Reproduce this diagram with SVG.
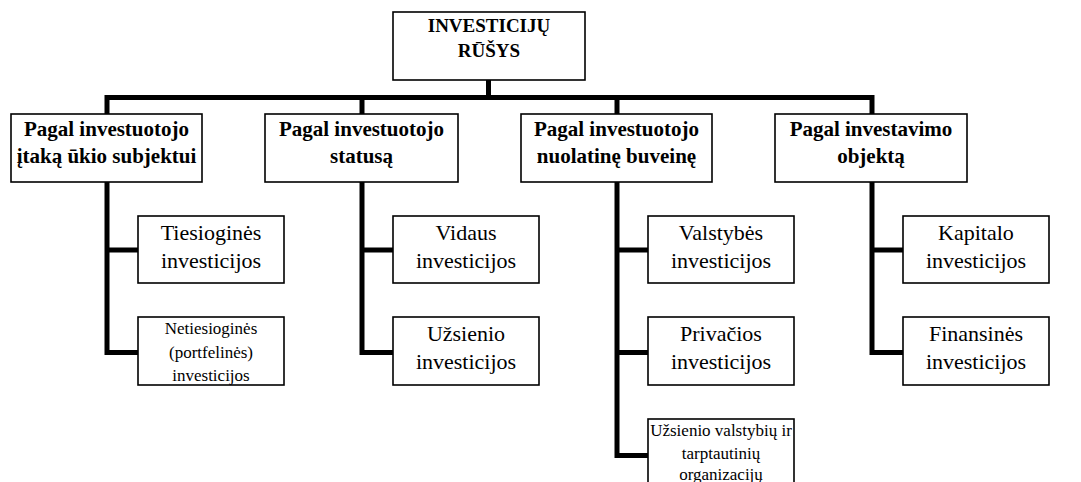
<svg xmlns="http://www.w3.org/2000/svg" width="1081" height="482" viewBox="0 0 1081 482">
<style>
.box{fill:#fff;stroke:#000;stroke-width:1.6}
.ln{fill:none;stroke:#000;stroke-width:5;stroke-linecap:butt;stroke-linejoin:miter}
.t{font-family:Tinos,'Liberation Serif','DejaVu Serif',serif;text-anchor:middle;fill:#000}
.b{font-weight:bold;font-size:21px}
.top{font-weight:bold;font-size:19px}
.c{font-size:22px}
.s{font-size:17px}
</style>
<rect width="1081" height="482" fill="#fff"/>
<g id="connectors">
<path class="ln" d="M488.5 80V97.5M107 97.5H872M107 95V114M362 97.5V114M617 97.5V114M872 95V114"/>
<path class="ln" d="M107 182V352.5H138M107 250H138"/>
<path class="ln" d="M362 182V352.5H393M362 250H393"/>
<path class="ln" d="M617 182V455.5H648M617 250H648M617 352.5H648"/>
<path class="ln" d="M872 182V352.5H903M872 250H903"/>
</g>
<g id="root">
<rect class="box" x="393" y="12" width="192" height="68"/>
<text class="t top" x="489" y="32">INVESTICIJŲ</text>
<text class="t top" x="489" y="57">RŪŠYS</text>
</g>
<g id="p1">
<rect class="box" x="11" y="114" width="191" height="68"/>
<text class="t b" x="106.5" y="136">Pagal investuotojo</text>
<text class="t b" x="106.5" y="163">įtaką ūkio subjektui</text>
</g>
<g id="p2">
<rect class="box" x="265" y="114" width="193" height="68"/>
<text class="t b" x="361.5" y="136">Pagal investuotojo</text>
<text class="t b" x="361.5" y="163">statusą</text>
</g>
<g id="p3">
<rect class="box" x="521" y="114" width="191" height="68"/>
<text class="t b" x="616.5" y="136">Pagal investuotojo</text>
<text class="t b" x="616.5" y="163">nuolatinę buveinę</text>
</g>
<g id="p4">
<rect class="box" x="775" y="114" width="192" height="68"/>
<text class="t b" x="871" y="136">Pagal investavimo</text>
<text class="t b" x="871" y="163">objektą</text>
</g>
<g id="c11">
<rect class="box" x="138" y="216" width="146" height="67"/>
<text class="t c" x="211" y="240">Tiesioginės</text>
<text class="t c" x="211" y="268">investicijos</text>
</g>
<g id="c12">
<rect class="box" x="138" y="317" width="146" height="68"/>
<text class="t s" x="211" y="334">Netiesioginės</text>
<text class="t s" x="211" y="358">(portfelinės)</text>
<text class="t s" x="211" y="381">investicijos</text>
</g>
<g id="c21">
<rect class="box" x="393" y="216" width="146" height="67"/>
<text class="t c" x="466" y="240">Vidaus</text>
<text class="t c" x="466" y="268">investicijos</text>
</g>
<g id="c22">
<rect class="box" x="393" y="317" width="146" height="68"/>
<text class="t c" x="466" y="341">Užsienio</text>
<text class="t c" x="466" y="369">investicijos</text>
</g>
<g id="c31">
<rect class="box" x="648" y="216" width="146" height="67"/>
<text class="t c" x="721" y="240">Valstybės</text>
<text class="t c" x="721" y="268">investicijos</text>
</g>
<g id="c32">
<rect class="box" x="648" y="317" width="146" height="68"/>
<text class="t c" x="721" y="341">Privačios</text>
<text class="t c" x="721" y="369">investicijos</text>
</g>
<g id="c33">
<rect class="box" x="648" y="419" width="146" height="70"/>
<text class="t s" x="721" y="436">Užsienio valstybių ir</text>
<text class="t s" x="721" y="459">tarptautinių</text>
<text class="t s" x="721" y="480">organizacijų</text>
</g>
<g id="c41">
<rect class="box" x="903" y="216" width="146" height="67"/>
<text class="t c" x="976" y="240">Kapitalo</text>
<text class="t c" x="976" y="268">investicijos</text>
</g>
<g id="c42">
<rect class="box" x="903" y="317" width="146" height="68"/>
<text class="t c" x="976" y="341">Finansinės</text>
<text class="t c" x="976" y="369">investicijos</text>
</g>
</svg>
